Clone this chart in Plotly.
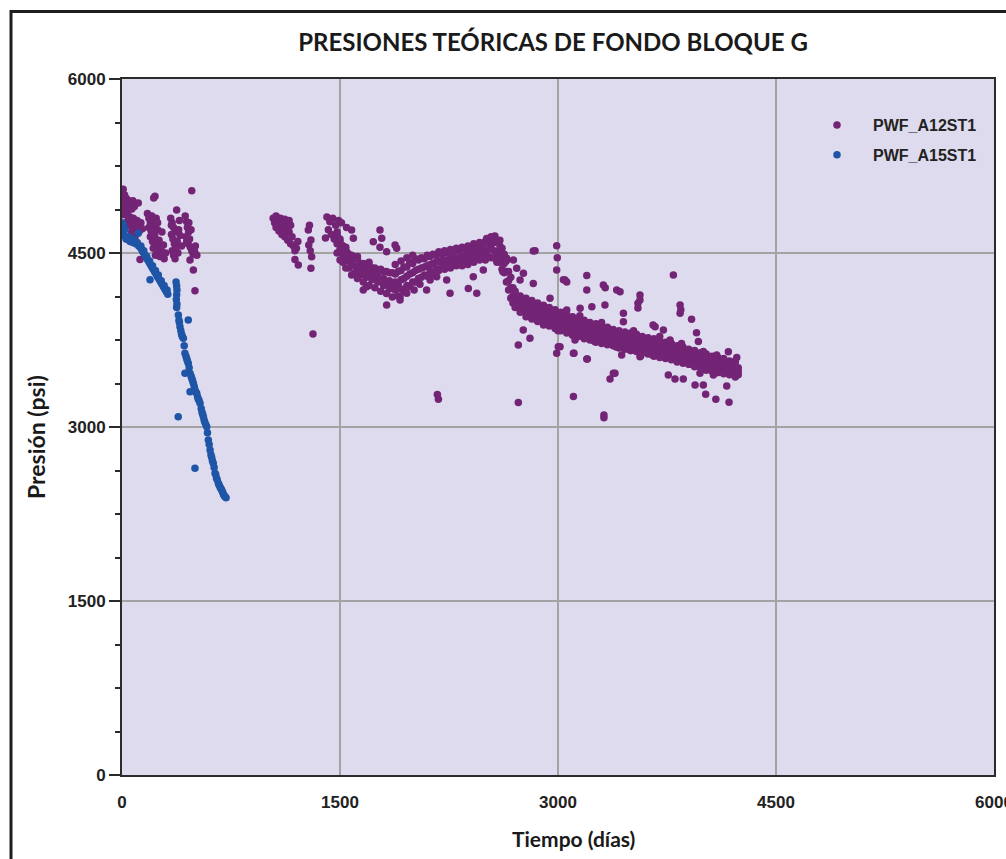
import plotly.graph_objects as go

# ---------------- DATA ----------------
# PWF_A12ST1 - early clusters (days, psi)
A12_EARLY_DAYS = [0, 0, 0, 8, 10, 12, 18, 20, 24, 30, 34, 40, 46, 52, 60, 68, 75, 85, 112, 227, 218,
                  32, 40, 48, 55, 62, 70, 78, 86, 95, 104, 112, 120, 130, 140, 0, 124, 67, 90,
                  175, 185, 195, 205, 215, 225, 235, 245, 185, 200, 195, 210, 225, 240, 255, 270, 285, 300,
                  215, 230, 260, 290, 245, 275, 250,
                  335, 345, 355, 365, 340, 350, 360, 370, 345, 355, 365, 380, 390, 385, 400, 410, 376, 395, 340,
                  435, 445, 450, 458, 440, 465, 455, 470, 480, 490, 500, 515, 505, 460, 475, 445,
                  480, 491, 502, 468]
A12_EARLY_PSI = [4990, 4930, 4870, 5050, 4960, 4900, 5000, 4940, 4880, 4970, 4910, 4860, 4950, 4900, 4930, 4880, 4950, 4900, 4930, 4990, 4975,
                 4830, 4780, 4740, 4810, 4760, 4720, 4800, 4750, 4700, 4780, 4730, 4690, 4760, 4710, 4830, 4444, 4684, 4640,
                 4840, 4800, 4760, 4820, 4780, 4740, 4800, 4760, 4720, 4690, 4640, 4600, 4650, 4560, 4610, 4520, 4570, 4500,
                 4540, 4480, 4470, 4450, 4700, 4680, 4520,
                 4800, 4760, 4720, 4680, 4660, 4620, 4580, 4540, 4520, 4480, 4450, 4600, 4700, 4500, 4650, 4560, 4871, 4780, 4740,
                 4820, 4770, 4720, 4680, 4640, 4620, 4580, 4550, 4520, 4490, 4510, 4480, 4560, 4760, 4700, 4600,
                 5037, 4354, 4175, 4440]

# PWF_A12ST1 - second cluster (days ~1040-1320)
A12_MID_DAYS = [1040, 1050, 1060, 1070, 1080, 1090, 1100, 1110, 1120, 1130, 1140, 1150, 1060, 1080, 1100, 1120,
                1140, 1160, 1170, 1180, 1200, 1210, 1150, 1190, 1160, 1110,
                1190, 1213, 1282, 1290, 1300, 1285, 1305, 1300, 1295, 1314]
A12_MID_PSI = [4800, 4760, 4820, 4780, 4740, 4800, 4760, 4720, 4790, 4740, 4700, 4780, 4720, 4690, 4660, 4640,
               4610, 4580, 4640, 4560, 4540, 4600, 4680, 4520, 4740, 4680,
               4444, 4397, 4698, 4740, 4612, 4569, 4468, 4368, 4520, 3802]

# PWF_A12ST1 - start of the long decline (days ~1400-1600)
A12_TOP_DAYS = [1410, 1430, 1450, 1470, 1490, 1510, 1420, 1440, 1460, 1480, 1500, 1520, 1400, 1545, 1580, 1592, 1546]
A12_TOP_PSI = [4810, 4770, 4800, 4740, 4780, 4760, 4700, 4660, 4620, 4680, 4600, 4560, 4630, 4720, 4698, 4627, 4511]

# PWF_A12ST1 - main band (days) with lower / middle / upper pressures
A12_BAND_DAYS = [1480, 1520, 1560, 1600, 1640, 1680, 1720, 1760, 1800, 1840, 1880, 1920, 1960, 2000,
                 2040, 2080, 2120, 2160, 2200, 2240, 2280, 2320, 2360, 2400, 2440, 2480, 2520, 2560,
                 2600, 2630, 2660, 2690, 2720, 2760, 2800, 2840, 2880, 2920, 2960, 3000, 3040, 3080,
                 3120, 3160, 3200, 3240, 3280, 3320, 3360, 3400, 3440, 3480, 3520, 3560, 3600, 3640,
                 3680, 3720, 3760, 3800, 3840, 3880, 3920, 3960, 4000, 4040, 4080, 4120, 4160, 4200, 4240]
A12_BAND_LOW = [4500, 4420, 4370, 4330, 4310, 4290, 4270, 4250, 4220, 4190, 4180, 4190, 4220, 4250,
                4280, 4310, 4340, 4360, 4380, 4390, 4400, 4410, 4420, 4440, 4450, 4460, 4470, 4460,
                4420, 4330, 4180, 4070, 4030, 4000, 3970, 3950, 3930, 3910, 3890, 3870, 3850, 3830,
                3810, 3800, 3780, 3770, 3750, 3740, 3730, 3710, 3700, 3690, 3680, 3670, 3660, 3650,
                3640, 3620, 3610, 3590, 3580, 3570, 3550, 3540, 3520, 3510, 3500, 3490, 3480, 3460, 3450]
A12_BAND_MID = [4580, 4490, 4430, 4390, 4360, 4340, 4320, 4300, 4280, 4260, 4250, 4270, 4300, 4330,
                4360, 4380, 4400, 4420, 4430, 4440, 4450, 4460, 4470, 4490, 4500, 4510, 4530, 4520,
                4490, 4410, 4260, 4130, 4080, 4050, 4020, 4000, 3980, 3960, 3940, 3920, 3900, 3880,
                3860, 3850, 3830, 3820, 3800, 3790, 3780, 3760, 3750, 3740, 3730, 3720, 3700, 3690,
                3680, 3660, 3650, 3640, 3620, 3610, 3590, 3580, 3560, 3550, 3540, 3530, 3510, 3500, 3480]
A12_BAND_HIGH = [4660, 4560, 4490, 4450, 4410, 4390, 4370, 4350, 4340, 4330, 4320, 4350, 4380, 4410,
                 4440, 4450, 4470, 4480, 4490, 4500, 4510, 4520, 4530, 4540, 4550, 4570, 4590, 4590,
                 4560, 4490, 4340, 4200, 4130, 4100, 4070, 4050, 4030, 4010, 3990, 3970, 3950, 3930,
                 3910, 3900, 3880, 3870, 3850, 3840, 3830, 3810, 3800, 3790, 3770, 3760, 3750, 3730,
                 3720, 3710, 3690, 3680, 3660, 3650, 3630, 3620, 3600, 3590, 3580, 3570, 3550, 3540, 3510]
# extra readings between the band columns (fill and thicken the band)
A12_FILL_DAYS = [1500, 1540, 1580, 1620, 1660, 1700, 1740, 1780, 1820, 1860, 1900, 1940, 1980, 2020,
                 2060, 2100, 2140, 2180, 2220, 2260, 2300, 2340, 2380, 2420, 2460, 2500, 2540, 2580,
                 2615, 2645, 2675, 2705, 2740, 2780, 2820, 2860, 2900, 2940, 2980, 3020, 3060, 3100,
                 3140, 3180, 3220, 3260, 3300, 3340, 3380, 3420, 3460, 3500, 3540, 3580, 3620, 3660,
                 3700, 3740, 3780, 3820, 3860, 3900, 3940, 3980, 4020, 4060, 4100, 4140, 4180, 4220]
A12_FILL_PSI = [4530, 4460, 4400, 4370, 4330, 4310, 4290, 4270, 4250, 4230, 4230, 4280, 4320, 4350,
                4370, 4390, 4410, 4430, 4440, 4450, 4460, 4470, 4480, 4500, 4510, 4520, 4540, 4510,
                4450, 4340, 4200, 4100, 4060, 4030, 4010, 3990, 3970, 3950, 3930, 3910, 3890, 3870,
                3855, 3840, 3825, 3810, 3795, 3785, 3770, 3755, 3745, 3735, 3725, 3710, 3695, 3685,
                3670, 3655, 3645, 3630, 3615, 3600, 3585, 3570, 3555, 3545, 3535, 3520, 3505, 3490]
A12_FILL_LOW = [4440, 4370, 4310, 4280, 4250, 4220, 4200, 4170, 4150, 4120,
                4130, 4170, 4210, 4250, 4290, 4300, 4320, 4350, 4360, 4370,
                4390, 4390, 4400, 4420, 4440, 4440, 4460, 4430, 4360, 4250,
                4110, 4030, 3990, 3950, 3930, 3910, 3890, 3870, 3850, 3830,
                3810, 3790, 3780, 3760, 3750, 3730, 3720, 3710, 3700, 3680,
                3670, 3660, 3650, 3640, 3630, 3610, 3600, 3590, 3580, 3560,
                3550, 3540, 3520, 3510, 3490, 3480, 3470, 3460, 3450, 3430]
A12_FILL_HIGH = [4620, 4550, 4480, 4450, 4410, 4390, 4370, 4360, 4340, 4330,
                 4340, 4380, 4420, 4450, 4460, 4480, 4490, 4510, 4520, 4530,
                 4540, 4550, 4560, 4580, 4590, 4600, 4620, 4600, 4540, 4430,
                 4290, 4170, 4130, 4110, 4090, 4070, 4050, 4030, 4010, 3990,
                 3970, 3950, 3930, 3920, 3900, 3890, 3870, 3860, 3840, 3830,
                 3820, 3810, 3800, 3780, 3770, 3760, 3740, 3730, 3720, 3700,
                 3690, 3670, 3660, 3640, 3630, 3610, 3600, 3590, 3570, 3560]

# PWF_A12ST1 - scattered readings around the band
A12_SCAT_DAYS = [1775, 1787, 1729, 1775, 1879, 1890, 1821, 1660, 1683, 1821, 1844, 1913, 1913, 1959, 2096,
                 2120, 2165, 2257, 2234, 2383, 2441, 2417, 2486, 2303, 1700, 1620, 2050, 2010, 1880, 1920,
                 1960, 2000,
                 2509, 2566, 2555, 2693, 2647, 2716, 2762, 2739, 2830, 2830, 2842, 2600, 2540, 2580, 2620,
                 2991, 2995, 2991, 3198, 3198, 3048, 3037, 3060, 3312, 3325, 3404, 3427, 3564, 3550, 3564,
                 3550, 3794, 3840, 3845, 3840, 3919, 3953, 3060, 3152, 3233, 2945, 3450, 3450, 3323, 3668,
                 3725, 3654,
                 3106, 3198, 3381, 3358, 3392, 3106, 3316, 3316, 3759, 3805, 3862, 3943, 4000, 4016, 4086,
                 4177, 4161, 4069, 3977, 4172, 4092, 3966, 3771, 3564, 3438, 3117, 3014, 2727, 2807, 2761,
                 2991, 3002, 3110, 3202, 3569, 2170, 2177, 2727,
                 2900, 3000, 3100, 3250, 3400, 3500, 3650, 3900, 4100, 4200, 4230, 2850, 3150, 3300, 3520,
                 3700, 3850, 4000]
A12_SCAT_PSI = [4698, 4627, 4597, 4550, 4569, 4540, 4511, 4181, 4210, 4052, 4210, 4123, 4095, 4152, 4181,
                4267, 4296, 4152, 4267, 4195, 4152, 4296, 4354, 4397, 4420, 4470, 4230, 4180, 4400, 4430,
                4460, 4480,
                4626, 4647, 4600, 4440, 4455, 4368, 4325, 4267, 4238, 4517, 4520, 4610, 4640, 4420, 4340,
                4563, 4460, 4354, 4305, 4181, 4267, 4270, 4250, 4224, 4200, 4181, 4165, 4138, 4066, 4095,
                4026, 4310, 4052, 4010, 3980, 3928, 3813, 4009, 4023, 4037, 4109, 3980, 3908, 4052, 3865,
                3836, 3879,
                3635, 3586, 3463, 3414, 3463, 3262, 3104, 3080, 3448, 3414, 3414, 3362, 3362, 3282, 3239,
                3213, 3353, 3448, 3463, 3649, 3621, 3736, 3750, 3606, 3621, 3750, 3692, 3707, 3765, 3836,
                3635, 3692, 3635, 3586, 3612, 3280, 3239, 3211,
                3880, 3830, 3800, 3740, 3690, 3660, 3620, 3540, 3470, 3560, 3600, 3930, 3960, 3900, 3830,
                3780, 3720, 3650]

# PWF_A15ST1 - first decline (days 0-320)
A15_FIRST_DAYS = [0, 0, 5, 10, 15, 20, 28, 35, 45, 55, 65, 75, 85, 95, 105, 115, 125, 135, 145, 155, 165,
                  175, 185, 195, 205, 215, 225, 235, 245, 255, 265, 275, 285, 295, 305, 315,
                  130, 150, 170, 190, 210, 230, 250, 270, 290, 310, 193, 112]
A15_FIRST_PSI = [4760, 4720, 4680, 4740, 4650, 4700, 4620, 4620, 4640, 4600, 4620, 4590, 4610, 4580, 4590,
                 4560, 4550, 4530, 4507, 4486, 4465, 4443, 4422, 4400, 4380, 4358, 4337, 4316, 4294, 4273,
                 4252, 4230, 4209, 4188, 4167, 4145,
                 4560, 4520, 4470, 4430, 4390, 4350, 4310, 4260, 4220, 4180, 4270, 4670]

# PWF_A15ST1 - short column around day 376
A15_COLUMN_DAYS = [372, 376, 378, 376, 374, 378, 376]
A15_COLUMN_PSI = [4250, 4215, 4180, 4140, 4100, 4060, 4030]

# PWF_A15ST1 - steep decline (days 385-716)
A15_STEEP_DAYS = [388, 399, 422, 433, 456, 468, 491, 514, 537, 560, 583, 594, 606, 628, 640, 663, 686, 709,
                  392, 395, 405, 410, 415, 428, 440, 445, 450, 462, 475, 480, 485, 497, 503, 508, 520, 525,
                  530, 545, 550, 555, 565, 570, 577, 588, 600, 612, 617, 622, 634, 645, 650, 655, 668, 675,
                  680, 692, 698, 703, 716,
                  456, 433, 387, 502, 468]
A15_STEEP_PSI = [3966, 3865, 3765, 3635, 3549, 3463, 3377, 3290, 3204, 3089, 3003, 2888, 2802, 2687, 2601,
                 2515, 2457, 2399,
                 3920, 3900, 3830, 3800, 3780, 3700, 3610, 3590, 3570, 3510, 3440, 3420, 3400, 3350, 3320,
                 3300, 3260, 3240, 3230, 3160, 3130, 3110, 3060, 3040, 3020, 2950, 2850, 2760, 2740, 2710,
                 2650, 2590, 2560, 2545, 2500, 2480, 2470, 2440, 2420, 2410, 2390,
                 3923, 3463, 3089, 2644, 3304]

SERIES_NAMES = ["PWF_A12ST1", "PWF_A15ST1"]
X_TICKS = [0, 1500, 3000, 4500, 6000]
Y_TICKS = [0, 1500, 3000, 4500, 6000]
TITLE = "PRESIONES TEÓRICAS DE FONDO BLOQUE G"
X_TITLE = "Tiempo (días)"
Y_TITLE = "Presión (psi)"

# ---------------- FIGURE ----------------
a12_x = (A12_EARLY_DAYS + A12_MID_DAYS + A12_TOP_DAYS + A12_BAND_DAYS * 3 + A12_FILL_DAYS * 3
         + A12_SCAT_DAYS)
a12_y = (A12_EARLY_PSI + A12_MID_PSI + A12_TOP_PSI + A12_BAND_LOW + A12_BAND_MID + A12_BAND_HIGH
         + A12_FILL_PSI + A12_FILL_LOW + A12_FILL_HIGH + A12_SCAT_PSI)
a15_x = A15_FIRST_DAYS + A15_COLUMN_DAYS + A15_STEEP_DAYS
a15_y = A15_FIRST_PSI + A15_COLUMN_PSI + A15_STEEP_PSI

PURPLE = "#732475"
BLUE = "#1f55a6"

W, H = 1006, 859
L, R, T, B = 122, 12, 79, 84
PW = W - L - R
PH = H - T - B


def px_x(p):
    return (p - L) / PW


def px_y(p):
    return (H - B - p) / PH


fig = go.Figure()
fig.add_trace(go.Scatter(x=a12_x, y=a12_y, mode="markers", name=SERIES_NAMES[0],
                         marker=dict(color=PURPLE, size=7.5, line=dict(width=0)), legendgroup="a"))
fig.add_trace(go.Scatter(x=a15_x, y=a15_y, mode="markers", name=SERIES_NAMES[1],
                         marker=dict(color=BLUE, size=7.5, line=dict(width=0)), legendgroup="b"))

tick_font = dict(family="Liberation Sans, Arial, sans-serif", size=17, color="#222222", weight="bold")

fig.update_layout(
    width=W, height=H,
    margin=dict(l=L, r=R, t=T, b=B, autoexpand=False),
    paper_bgcolor="white",
    plot_bgcolor="#dedbee",
    showlegend=True,
    title=dict(text="<b>" + TITLE + "</b>", x=553 / W, xref="container", xanchor="center",
               y=1 - 43 / H, yref="container", yanchor="middle",
               font=dict(family="Lato, Open Sans, sans-serif", size=24, color="#1a1a1a")),
    legend=dict(x=px_x(801), y=px_y(108), xanchor="left", yanchor="top",
                bgcolor="rgba(0,0,0,0)", itemwidth=62, tracegroupgap=6,
                font=dict(family="Liberation Sans, Arial, sans-serif", size=16, color="#222222",
                          weight="bold")),
    xaxis=dict(range=[0, 6000], tickvals=X_TICKS, ticktext=[str(v) for v in X_TICKS],
               showgrid=True, gridcolor="#a3a3a3", gridwidth=1.5, zeroline=False,
               showline=True, linecolor="#2b2b2b", linewidth=2, mirror=True,
               ticks="outside", ticklen=11, tickcolor="rgba(0,0,0,0)",
               ticklabeloverflow="allow",
               tickfont=tick_font),
    yaxis=dict(range=[0, 6000], tickvals=Y_TICKS, ticktext=[str(v) for v in Y_TICKS],
               showgrid=True, gridcolor="#a3a3a3", gridwidth=1.5, zeroline=False,
               showline=True, linecolor="#2b2b2b", linewidth=2, mirror=True,
               ticks="outside", ticklen=11, tickcolor="#2b2b2b", tickwidth=1.5,
               minor=dict(dtick=375, ticks="outside", ticklen=5, tickcolor="#2b2b2b", tickwidth=1.5,
                          showgrid=False),
               ticklabeloverflow="allow",
               tickfont=tick_font),
    annotations=[
        dict(text="<b>" + X_TITLE + "</b>", x=px_x(573), y=px_y(838), xref="paper", yref="paper",
             showarrow=False, xanchor="center", yanchor="middle",
             font=dict(family="Lato, Open Sans, sans-serif", size=21, color="#1a1a1a")),
        dict(text="<b>" + Y_TITLE + "</b>", x=px_x(36), y=px_y(437), xref="paper", yref="paper",
             showarrow=False, xanchor="center", yanchor="middle", textangle=-90,
             font=dict(family="Lato, Open Sans, sans-serif", size=23, color="#1a1a1a")),
    ],
    shapes=[
        dict(type="rect", xref="paper", yref="paper",
             x0=px_x(11), y0=px_y(880), x1=px_x(1030), y1=px_y(11.5),
             line=dict(color="#1e1e1e", width=3), fillcolor="rgba(0,0,0,0)", layer="below"),
    ],
)

fig.write_html("out.html")
